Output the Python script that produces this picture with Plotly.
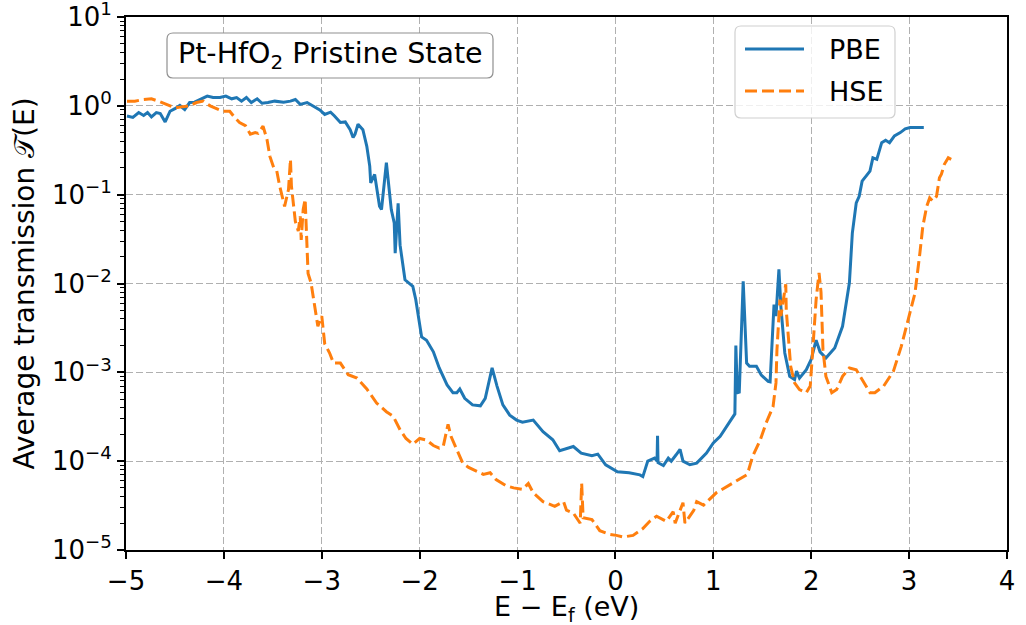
import plotly.graph_objects as go

# ---------------- data ----------------
E_pbe = [-4.99, -4.93, -4.87, -4.82, -4.78, -4.74, -4.69, -4.65, -4.60, -4.55, -4.50, -4.45, -4.40,
         -4.35, -4.30, -4.24, -4.17, -4.11, -4.04, -3.98, -3.92, -3.87, -3.82, -3.77, -3.72, -3.66,
         -3.61, -3.55, -3.48, -3.39, -3.32, -3.27, -3.22, -3.15, -3.09, -3.02, -2.97, -2.91, -2.87,
         -2.81, -2.76, -2.71, -2.68, -2.66, -2.63, -2.58, -2.54, -2.51, -2.50, -2.46, -2.41, -2.39,
         -2.34, -2.32, -2.29, -2.26, -2.25, -2.22, -2.20, -2.15, -2.07, -2.04, -1.98, -1.93, -1.86,
         -1.80, -1.72, -1.66, -1.62, -1.59, -1.54, -1.46, -1.38, -1.33, -1.26, -1.21, -1.15, -1.08,
         -1.01, -0.95, -0.84, -0.74, -0.64, -0.57, -0.43, -0.35, -0.24, -0.18, -0.10, 0.02, 0.14,
         0.25, 0.28, 0.33, 0.40, 0.425, 0.43, 0.435, 0.49, 0.54, 0.57, 0.62, 0.66, 0.69, 0.76, 0.83,
         0.93, 1.00, 1.07, 1.17, 1.20, 1.22, 1.23, 1.245, 1.265, 1.305, 1.34, 1.37, 1.44, 1.49, 1.56,
         1.58, 1.62, 1.64, 1.67, 1.69, 1.73, 1.78, 1.83, 1.85, 1.88, 1.95, 2.00, 2.05, 2.09, 2.15,
         2.24, 2.32, 2.39, 2.42, 2.46, 2.49, 2.52, 2.56, 2.60, 2.63, 2.67, 2.72, 2.76, 2.80, 2.85,
         2.91, 2.96, 3.01, 3.06, 3.11, 3.15]
T_pbe = [0.77, 0.74, 0.84, 0.78, 0.84, 0.75, 0.84, 0.82, 0.66, 0.87, 0.93, 1.01, 0.91,
         1.09, 1.10, 1.18, 1.29, 1.24, 1.24, 1.29, 1.20, 1.24, 1.13, 1.24, 1.09, 1.20,
         1.07, 1.09, 1.13, 1.10, 1.13, 1.18, 1.04, 1.09, 0.99, 0.90, 0.80, 0.85, 0.77,
         0.65, 0.66, 0.54, 0.44, 0.48, 0.62, 0.54, 0.35, 0.21, 0.136, 0.169, 0.074, 0.068,
         0.229, 0.148, 0.068, 0.048, 0.022, 0.08, 0.027, 0.011, 0.0093, 0.0066, 0.0025, 0.0023, 0.0017,
         1.12e-3, 7.2e-4, 5.9e-4, 5.9e-4, 6.5e-4, 5.1e-4, 4.3e-4, 4.2e-4, 5.1e-4, 1.12e-3, 7.0e-4, 4.3e-4, 3.3e-4,
         2.9e-4, 2.75e-4, 2.9e-4, 2.15e-4, 1.74e-4, 1.31e-4, 1.46e-4, 1.23e-4, 1.15e-4, 1.2e-4, 9.1e-5, 7.6e-5, 7.4e-5,
         7.0e-5, 6.7e-5, 1.0e-4, 1.08e-4, 1.0e-4, 1.93e-4, 9.6e-5, 8.9e-5, 1.08e-4, 1.0e-4, 1.18e-4, 1.36e-4, 1.0e-4, 9.1e-5, 9.5e-5,
         1.23e-4, 1.6e-4, 1.9e-4, 2.8e-4, 3.2e-4, 3.4e-4, 2.0e-3, 5.9e-4, 6.0e-4, 1.06e-2, 1.27e-3, 1.17e-3, 1.17e-3, 9.3e-4, 7.9e-4,
         7.8e-4, 5.8e-3, 4.3e-3, 1.44e-2, 5.5e-3, 1.65e-3, 9.0e-4, 8.3e-4, 1.03e-3, 8.6e-4, 1.07e-3, 1.4e-3, 2.3e-3, 1.7e-3, 1.45e-3,
         1.88e-3, 3.3e-3, 1.02e-2, 0.037, 0.081, 0.096, 0.142, 0.16, 0.184, 0.26, 0.25, 0.385, 0.41, 0.385, 0.46,
         0.50, 0.55, 0.57, 0.57, 0.58, 0.57]

E_hse = [-4.99, -4.91, -4.82, -4.74, -4.67, -4.62, -4.55, -4.50, -4.42, -4.35, -4.28, -4.21, -4.14,
         -4.07, -4.01, -3.94, -3.89, -3.84, -3.78, -3.73, -3.68, -3.65, -3.60, -3.56, -3.53, -3.49,
         -3.46, -3.43, -3.38, -3.34, -3.32, -3.31, -3.27, -3.24, -3.22, -3.21, -3.19, -3.17, -3.15,
         -3.14, -3.11, -3.09, -3.07, -3.04, -3.00, -2.97, -2.92, -2.88, -2.81, -2.73, -2.64, -2.54,
         -2.44, -2.34, -2.27, -2.20, -2.14, -2.07, -2.00, -1.93, -1.86, -1.80, -1.76, -1.71, -1.68,
         -1.62, -1.56, -1.50, -1.42, -1.35, -1.28, -1.22, -1.12, -1.04, -0.95, -0.89, -0.84, -0.74,
         -0.62, -0.53, -0.50, -0.43, -0.36, -0.345, -0.33, -0.24, -0.16, -0.06, 0.01, 0.08, 0.18,
         0.28, 0.35, 0.42, 0.52, 0.59, 0.61, 0.69, 0.71, 0.80, 0.83, 0.90, 1.03, 1.17, 1.30, 1.34,
         1.36, 1.40, 1.48, 1.54, 1.61, 1.64, 1.65, 1.66, 1.68, 1.69, 1.72, 1.74, 1.745, 1.76, 1.79,
         1.83, 1.88, 1.95, 1.99, 2.02, 2.05, 2.08, 2.10, 2.12, 2.15, 2.21, 2.26, 2.32, 2.39, 2.46,
         2.53, 2.60, 2.65, 2.74, 2.84, 2.92, 2.99, 3.06, 3.11, 3.14, 3.18, 3.21, 3.24, 3.28, 3.31,
         3.33, 3.36, 3.40, 3.43]
T_hse = [1.13, 1.13, 1.18, 1.20, 1.13, 1.07, 1.00, 0.95, 0.98, 1.00, 1.09, 1.13, 1.00,
         0.93, 0.87, 0.87, 0.74, 0.65, 0.60, 0.48, 0.50, 0.49, 0.59, 0.42, 0.27, 0.20,
         0.186, 0.125, 0.074, 0.114, 0.25, 0.125, 0.05, 0.039, 0.057, 0.031, 0.068, 0.089, 0.03,
         0.013, 0.0102, 0.0075, 0.0055, 0.0033, 0.0043, 0.0021, 0.00165, 0.00127, 0.00127, 9.4e-4, 8.6e-4, 6.5e-4,
         4.5e-4, 3.6e-4, 3.2e-4, 2.25e-4, 1.8e-4, 1.55e-4, 1.8e-4, 1.73e-4, 1.5e-4, 1.4e-4, 1.45e-4, 2.6e-4, 1.9e-4,
         1.35e-4, 9.5e-5, 8.5e-5, 7.8e-5, 7.1e-5, 7.4e-5, 6.2e-5, 5.3e-5, 5.0e-5, 4.8e-5, 5.6e-5, 4.4e-5, 3.5e-5,
         3.1e-5, 3.5e-5, 2.8e-5, 2.6e-5, 2.0e-5, 5.6e-5, 2.3e-5, 2.2e-5, 1.65e-5, 1.5e-5, 1.46e-5, 1.4e-5, 1.46e-5,
         1.74e-5, 2.1e-5, 2.4e-5, 2.1e-5, 2.7e-5, 2.0e-5, 3.4e-5, 2.0e-5, 2.8e-5, 3.5e-5, 3.2e-5, 4.4e-5, 5.4e-5, 6.5e-5, 7.0e-5,
         7.9e-5, 1.12e-4, 1.74e-4, 2.7e-4, 4.1e-4, 7.6e-4, 1.8e-3, 3.0e-3, 6.6e-3, 4.3e-3, 7.2e-3, 9.8e-3, 5.0e-3, 2.8e-3, 1.17e-3,
         7.6e-4, 6.4e-4, 5.9e-4, 7.0e-4, 2.1e-3, 6.6e-3, 1.32e-2, 8.0e-3, 1.8e-3, 9.0e-4, 5.9e-4, 6.4e-4, 9.0e-4, 1.12e-3, 1.07e-3,
         7.9e-4, 5.9e-4, 5.9e-4, 7.0e-4, 1.03e-3, 1.96e-3, 3.9e-3, 7.8e-3, 0.022, 0.044, 0.074, 0.092, 0.085, 0.096, 0.155,
         0.17, 0.22, 0.26, 0.25]

x_ticks = [-5, -4, -3, -2, -1, 0, 1, 2, 3, 4]
x_ticktext = ["\u22125", "\u22124", "\u22123", "\u22122", "\u22121", "0", "1", "2", "3", "4"]
y_ticks = [1e-5, 1e-4, 1e-3, 1e-2, 1e-1, 1e0, 1e1]
y_ticktext = ["10<sup>\u22125</sup>", "10<sup>\u22124</sup>", "10<sup>\u22123</sup>",
              "10<sup>\u22122</sup>", "10<sup>\u22121</sup>", "10<sup>0</sup>", "10<sup>1</sup>"]
y_minor = [k * 10.0 ** e for e in range(-5, 1) for k in range(2, 10)]

series_names = ["PBE", "HSE"]
series_colors = ["#1f77b4", "#ff7f0e"]
x_title = "E \u2212 E<sub>f</sub> (eV)"
y_title = "Average transmission \U0001D4AF(E)"

# ---------------- layout geometry ----------------
# body margin is removed via post_script, so figure coords = screen coords
W, H = 1026, 625
L, R, T, B = 126, 1007, 17, 550
PW, PH = R - L, B - T
FONT = "DejaVu Sans"


def pp(px, py):
    """screen pixel -> paper coordinates"""
    return (px - L) / PW, (B - py) / PH


def rounded_rect(x0, y0, x1, y1, r):
    def P(x, y):
        a, b = pp(x, y)
        return f"{a:.5f},{b:.5f}"
    return (f"M{P(x0 + r, y0)} L{P(x1 - r, y0)} Q{P(x1, y0)} {P(x1, y0 + r)} "
            f"L{P(x1, y1 - r)} Q{P(x1, y1)} {P(x1 - r, y1)} L{P(x0 + r, y1)} "
            f"Q{P(x0, y1)} {P(x0, y1 - r)} L{P(x0, y0 + r)} Q{P(x0, y0)} {P(x0 + r, y0)} Z")


LW = 3.0
HSE_DASH = "12px,5px"

fig = go.Figure()
fig.add_trace(go.Scatter(x=E_pbe, y=T_pbe, mode="lines", name=series_names[0],
                         line=dict(color=series_colors[0], width=LW), showlegend=False))
fig.add_trace(go.Scatter(x=E_hse, y=T_hse, mode="lines", name=series_names[1],
                         line=dict(color=series_colors[1], width=LW, dash=HSE_DASH),
                         showlegend=False))

axis_common = dict(showline=True, linewidth=1.8, linecolor="black", mirror=True,
                   ticks="outside", ticklen=7, tickwidth=1.6, tickcolor="black",
                   showgrid=True, gridcolor="#b0b0b0", gridwidth=1.2, griddash="7px,3px",
                   zeroline=False, ticklabeloverflow="allow",
                   tickfont=dict(family=FONT, size=26, color="black"))

fig.update_xaxes(range=[-5, 4], tickmode="array", tickvals=x_ticks, ticktext=x_ticktext,
                 **axis_common)
fig.update_yaxes(type="log", range=[-5.0004, 1.0004], tickmode="array", tickvals=y_ticks, ticktext=y_ticktext,
                 minor=dict(tickmode="array", tickvals=y_minor, ticks="outside", ticklen=4,
                            tickwidth=1.3, tickcolor="black", showgrid=False),
                 title=dict(text=y_title, font=dict(family=FONT, size=28, color="black"), standoff=9),
                 **axis_common)

shapes = []
annotations = []
# x axis title
xt, yt = pp(566.5, 608)
annotations.append(dict(x=xt, y=yt, xref="paper", yref="paper", showarrow=False,
                        text=x_title, xanchor="center", yanchor="middle",
                        font=dict(family=FONT, size=27, color="black")))
# title box
shapes.append(dict(type="path", xref="paper", yref="paper", layer="above",
                   path=rounded_rect(167, 33, 493, 78, 6),
                   line=dict(color="#909090", width=1.2), fillcolor="white"))
cx, cy = pp(330, 56)
annotations.append(dict(x=cx, y=cy, xref="paper", yref="paper", showarrow=False,
                        text="Pt-HfO<sub>2</sub> Pristine State", xanchor="center", yanchor="middle",
                        font=dict(family=FONT, size=28.5, color="black")))
# legend box
shapes.append(dict(type="path", xref="paper", yref="paper", layer="above",
                   path=rounded_rect(735, 26, 895, 118, 6),
                   line=dict(color="#d0d0d0", width=1.2), fillcolor="rgba(255,255,255,0.8)"))
leg_y = [49, 91]
dashes = ["solid", HSE_DASH]
for name, col, yy, dd in zip(series_names, series_colors, leg_y, dashes):
    a0, b0 = pp(745, yy)
    a1, _ = pp(804, yy)
    shapes.append(dict(type="line", xref="paper", yref="paper", layer="above",
                       x0=a0, x1=a1, y0=b0, y1=b0, line=dict(color=col, width=LW, dash=dd)))
    tx, ty = pp(827, yy)
    annotations.append(dict(x=tx, y=ty, xref="paper", yref="paper", showarrow=False,
                            text=name, xanchor="left", yanchor="middle",
                            font=dict(family=FONT, size=27, color="black")))

fig.update_layout(width=W, height=H, margin=dict(l=L, r=W - R, t=T, b=H - B, autoexpand=False),
                  paper_bgcolor="white", plot_bgcolor="white",
                  shapes=shapes, annotations=annotations, showlegend=False)

fig.write_html("out.html", config={"displayModeBar": False},
               post_script="document.body.style.margin='0';document.body.style.overflow='hidden';")
